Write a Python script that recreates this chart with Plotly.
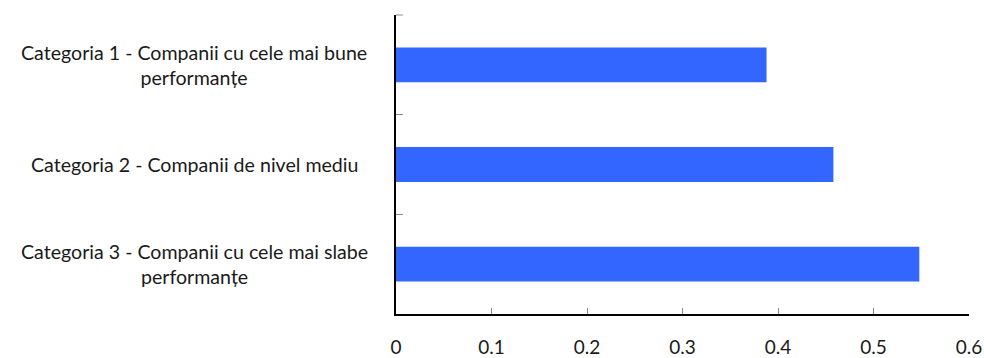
import plotly.graph_objects as go

categories = [
    "Categoria 1 - Companii cu cele mai bune<br>performanțe",
    "Categoria 2 - Companii de nivel mediu",
    "Categoria 3 - Companii cu cele mai slabe<br>performanțe",
]
values = [0.388, 0.458, 0.548]
x_ticks = [0, 0.1, 0.2, 0.3, 0.4, 0.5, 0.6]
x_tick_labels = ["0", "0.1", "0.2", "0.3", "0.4", "0.5", "0.6"]

FONT = "Lato"
fig = go.Figure(
    go.Bar(
        x=values,
        y=categories,
        orientation="h",
        marker=dict(color="#3366FF", line=dict(width=0)),
        width=0.35,
    )
)

for cat in categories:
    fig.add_annotation(
        x=0, xref="paper", y=cat, yref="y",
        text=cat, showarrow=False,
        xanchor="center", yanchor="middle", align="center",
        xshift=-202,
        font=dict(family=FONT, size=19.6, color="#1a1a1a"),
    )

# top boundary tick on the value axis (decoration)
fig.add_shape(type="line", xref="paper", yref="paper",
              x0=0, x1=0.012, y0=1, y1=1,
              line=dict(color="#888888", width=1))

fig.update_layout(
    width=984, height=358,
    margin=dict(l=396, r=15, t=15, b=44, autoexpand=False),
    plot_bgcolor="white", paper_bgcolor="white",
    showlegend=False,
    font=dict(family=FONT, size=19.6, color="#1a1a1a"),
)
fig.update_xaxes(
    range=[0, 0.6], tickvals=x_ticks, ticktext=x_tick_labels,
    showgrid=False, zeroline=False, automargin=False,
    showline=True, linecolor="black", linewidth=1.5,
    ticks="inside", ticklen=6, tickcolor="#888888", tickwidth=1,
    ticklabelstandoff=15,
    tickfont=dict(family=FONT, size=19, color="#1a1a1a"),
)
fig.update_yaxes(
    autorange="reversed", showticklabels=False, automargin=False,
    showgrid=False, zeroline=False,
    showline=True, linecolor="black", linewidth=1.5,
    ticks="inside", ticklen=7, tickcolor="#888888", tickwidth=1,
    tickson="boundaries",
)

fig.write_html("out.html")
